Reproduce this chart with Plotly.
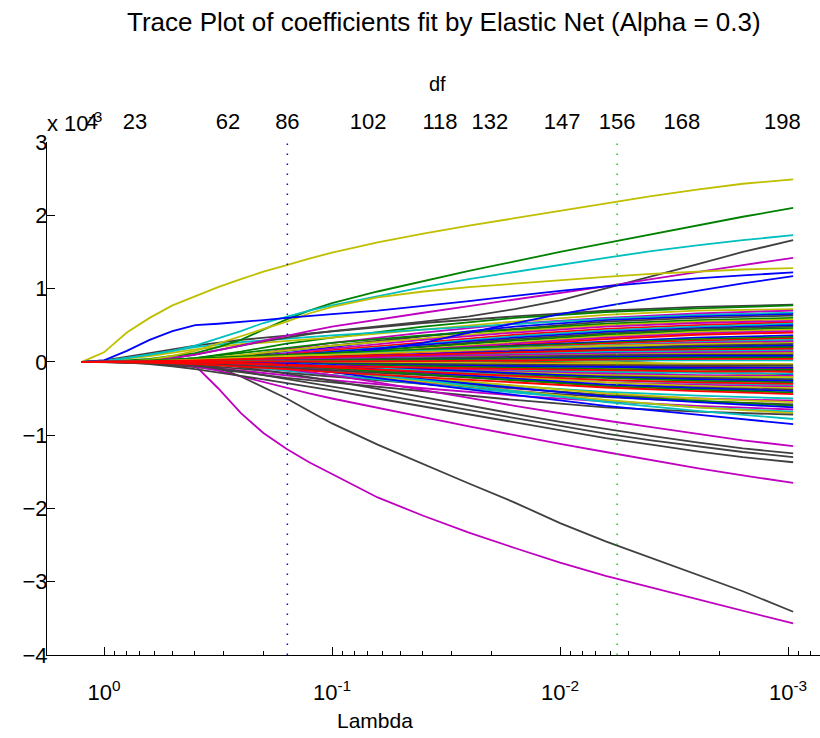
import plotly.graph_objects as go

# Lambda values at which the bundled coefficient paths are sampled (largest to smallest)
lambda_path = [1.25, 1.0, 0.631, 0.398, 0.251, 0.158, 0.1, 0.0398, 0.0158, 0.00631, 0.00251, 0.00095]

# Finer lambda sampling for the paths that stand out from the bundle
lambda_path_fine = [1.25, 1.0, 0.794, 0.631, 0.501, 0.398, 0.316, 0.251, 0.2, 0.158, 0.126, 0.1,
                    0.0631, 0.0398, 0.0251, 0.0158, 0.01, 0.00631, 0.00398, 0.00251, 0.00158, 0.00095]

# Coefficient paths, in units of 1e-3, one list per predictor
major_coefs = [
    [0, 0.13, 0.40, 0.60, 0.77, 0.90, 1.02, 1.13, 1.23, 1.32, 1.41, 1.49, 1.63, 1.75, 1.86, 1.96, 2.06, 2.16, 2.26, 2.35, 2.43, 2.49],
    [0, 0, 0.02, 0.04, 0.08, 0.12, 0.20, 0.30, 0.44, 0.58, 0.70, 0.80, 0.96, 1.10, 1.24, 1.37, 1.50, 1.62, 1.74, 1.86, 1.98, 2.10],
    [0, 0.01, 0.05, 0.10, 0.15, 0.22, 0.32, 0.42, 0.53, 0.62, 0.70, 0.77, 0.90, 1.02, 1.13, 1.23, 1.33, 1.42, 1.51, 1.59, 1.66, 1.73],
    [0, 0, 0, 0.02, 0.05, 0.10, 0.16, 0.22, 0.28, 0.33, 0.38, 0.42, 0.48, 0.55, 0.62, 0.72, 0.84, 1.00, 1.17, 1.33, 1.50, 1.66],
    [0, 0, 0, 0.02, 0.05, 0.10, 0.16, 0.22, 0.29, 0.36, 0.42, 0.48, 0.58, 0.67, 0.76, 0.85, 0.94, 1.03, 1.13, 1.23, 1.32, 1.42],
    [0, 0, 0, 0.03, 0.08, 0.15, 0.25, 0.35, 0.45, 0.55, 0.66, 0.75, 0.88, 0.96, 1.02, 1.07, 1.12, 1.16, 1.20, 1.23, 1.26, 1.28],
    [0, 0.02, 0.15, 0.30, 0.42, 0.50, 0.52, 0.54, 0.57, 0.60, 0.62, 0.65, 0.70, 0.76, 0.83, 0.90, 0.97, 1.03, 1.09, 1.14, 1.18, 1.22],
    [0, 0, 0, 0, 0.01, 0.02, 0.03, 0.04, 0.05, 0.07, 0.08, 0.10, 0.17, 0.26, 0.40, 0.53, 0.65, 0.76, 0.87, 0.97, 1.07, 1.17],
    [0, 0, 0, 0, 0, -0.05, -0.36, -0.70, -0.97, -1.19, -1.37, -1.53, -1.85, -2.10, -2.33, -2.54, -2.74, -2.92, -3.08, -3.24, -3.40, -3.57],
    [0, 0, 0, 0, 0, -0.02, -0.08, -0.20, -0.35, -0.50, -0.67, -0.84, -1.13, -1.40, -1.66, -1.92, -2.20, -2.45, -2.68, -2.90, -3.13, -3.41],
    [0, 0, 0, 0, -0.02, -0.06, -0.12, -0.20, -0.28, -0.36, -0.43, -0.50, -0.63, -0.76, -0.88, -1.00, -1.12, -1.23, -1.34, -1.45, -1.55, -1.65],
    [0, 0, -0.01, -0.03, -0.06, -0.10, -0.14, -0.19, -0.24, -0.29, -0.34, -0.39, -0.50, -0.61, -0.72, -0.83, -0.94, -1.04, -1.13, -1.22, -1.30, -1.37],
    [0, 0, 0, 0, -0.02, -0.05, -0.09, -0.13, -0.18, -0.23, -0.28, -0.33, -0.44, -0.55, -0.66, -0.77, -0.88, -0.98, -1.07, -1.15, -1.23, -1.30],
    [0, 0, 0, 0, 0, 0, -0.03, -0.07, -0.11, -0.16, -0.21, -0.26, -0.37, -0.48, -0.60, -0.71, -0.82, -0.92, -1.01, -1.10, -1.18, -1.25],
    [0, 0, 0, 0, 0, 0, 0, -0.03, -0.06, -0.10, -0.14, -0.18, -0.28, -0.38, -0.49, -0.60, -0.70, -0.80, -0.89, -0.98, -1.07, -1.15],
]
major_colors = ["y", "g", "c", "k", "m", "y", "b", "b", "m", "k", "m", "k", "k", "k", "m"]

# Upper part of the bundle
upper_coefs = [
    [0, 0.02, 0.12, 0.22, 0.30, 0.36, 0.42, 0.53, 0.62, 0.70, 0.75, 0.78],
    [0, 0, 0, 0.05, 0.14, 0.25, 0.33, 0.48, 0.60, 0.68, 0.73, 0.77],
    [0, 0.01, 0.08, 0.17, 0.24, 0.29, 0.33, 0.44, 0.55, 0.64, 0.70, 0.72],
    [0, 0, 0, 0.03, 0.08, 0.17, 0.26, 0.40, 0.52, 0.60, 0.66, 0.70],
    [0, 0.01, 0.10, 0.20, 0.27, 0.32, 0.36, 0.44, 0.52, 0.59, 0.64, 0.67],
    [0, 0, 0, 0.02, 0.06, 0.12, 0.20, 0.35, 0.48, 0.57, 0.62, 0.65],
    [0, 0, 0, 0.02, 0.07, 0.15, 0.22, 0.35, 0.45, 0.55, 0.60, 0.63],
    [0, 0, 0.01, 0.05, 0.12, 0.20, 0.26, 0.36, 0.44, 0.52, 0.57, 0.60],
    [0, 0, 0, 0.03, 0.09, 0.16, 0.22, 0.32, 0.42, 0.50, 0.55, 0.58],
    [0, 0, 0, 0.01, 0.05, 0.12, 0.18, 0.30, 0.40, 0.48, 0.53, 0.56],
    [0, 0, 0, 0.02, 0.06, 0.10, 0.16, 0.27, 0.37, 0.45, 0.50, 0.54],
    [0, 0, 0, 0, 0.03, 0.08, 0.14, 0.25, 0.35, 0.43, 0.48, 0.52],
    [0, 0, 0, 0.01, 0.04, 0.09, 0.14, 0.24, 0.33, 0.41, 0.46, 0.50],
    [0, 0, 0, 0, 0.02, 0.06, 0.11, 0.21, 0.31, 0.39, 0.45, 0.48],
    [0, 0, 0, 0.01, 0.04, 0.08, 0.12, 0.20, 0.29, 0.37, 0.43, 0.46],
    [0, 0, 0, 0, 0.01, 0.04, 0.09, 0.18, 0.27, 0.35, 0.41, 0.44],
    [0, 0, 0, 0, 0.02, 0.05, 0.09, 0.17, 0.25, 0.33, 0.39, 0.42],
    [0, 0, 0, 0, 0, 0.03, 0.07, 0.15, 0.24, 0.31, 0.37, 0.40],
]
upper_colors = ["k", "g", "y", "m", "c", "b", "k", "g", "y", "m", "r", "c", "b", "k", "g", "y", "m", "r"]

# Lower part of the bundle
lower_coefs = [
    [0, 0, 0, -0.01, -0.04, -0.08, -0.13, -0.23, -0.33, -0.41, -0.46, -0.50],
    [0, 0, 0, -0.02, -0.06, -0.12, -0.18, -0.28, -0.37, -0.45, -0.50, -0.53],
    [0, 0, 0, 0, -0.02, -0.06, -0.11, -0.22, -0.33, -0.43, -0.50, -0.55],
    [0, 0, -0.01, -0.04, -0.09, -0.15, -0.20, -0.30, -0.40, -0.48, -0.54, -0.58],
    [0, 0, 0, -0.01, -0.04, -0.09, -0.14, -0.25, -0.36, -0.46, -0.53, -0.60],
    [0, 0, 0, 0, -0.02, -0.06, -0.12, -0.24, -0.36, -0.47, -0.55, -0.62],
    [0, 0, -0.02, -0.06, -0.12, -0.19, -0.25, -0.36, -0.46, -0.54, -0.60, -0.65],
    [0, 0, 0, -0.02, -0.06, -0.12, -0.18, -0.30, -0.42, -0.53, -0.62, -0.68],
    [0, 0, 0, 0, -0.03, -0.08, -0.14, -0.27, -0.40, -0.52, -0.62, -0.70],
    [0, 0, -0.02, -0.07, -0.14, -0.22, -0.28, -0.40, -0.52, -0.62, -0.68, -0.72],
    [0, 0, 0, 0, -0.03, -0.06, -0.12, -0.25, -0.40, -0.55, -0.67, -0.78],
    [0, 0, 0, -0.02, -0.04, -0.08, -0.14, -0.30, -0.45, -0.60, -0.72, -0.85],
]
lower_colors = ["c", "m", "y", "k", "g", "b", "m", "c", "y", "k", "c", "b"]

# Late entries that fill the core of the bundle
late_coefs = [
    [0, 0, 0, 0, 0, 0, 0, 0.03, 0.08, 0.14, 0.20, 0.25],
    [0, 0, 0, 0, 0, 0, 0, 0, 0.04, 0.10, 0.16, 0.21],
    [0, 0, 0, 0, 0, 0, 0, 0, 0, 0.05, 0.10, 0.15],
    [0, 0, 0, 0, 0, 0, 0, 0.02, 0.05, 0.09, 0.13, 0.17],
    [0, 0, 0, 0, 0, 0, 0.01, 0.04, 0.08, 0.12, 0.16, 0.19],
    [0, 0, 0, 0, 0, 0, 0, 0, 0.02, 0.05, 0.08, 0.11],
    [0, 0, 0, 0, 0, 0, 0, 0, 0, 0, 0.04, 0.08],
    [0, 0, 0, 0, 0, 0, 0, -0.02, -0.06, -0.10, -0.14, -0.17],
    [0, 0, 0, 0, 0, 0, 0, 0, -0.04, -0.09, -0.14, -0.19],
    [0, 0, 0, 0, 0, 0, 0, 0, 0, -0.05, -0.10, -0.14],
    [0, 0, 0, 0, 0, 0, -0.01, -0.05, -0.10, -0.15, -0.19, -0.22],
    [0, 0, 0, 0, 0, 0, 0, 0, -0.02, -0.05, -0.08, -0.10],
    [0, 0, 0, 0, 0, 0, 0, 0, 0, 0, -0.03, -0.07],
    [0, 0, 0, 0, 0, 0, 0.02, 0.06, 0.11, 0.17, 0.23, 0.28],
    [0, 0, 0, 0, 0, 0, 0, 0.03, 0.09, 0.16, 0.23, 0.30],
    [0, 0, 0, 0, 0, 0, 0, 0, 0.05, 0.12, 0.20, 0.27],
    [0, 0, 0, 0, 0, 0, 0, -0.03, -0.08, -0.14, -0.20, -0.25],
    [0, 0, 0, 0, 0, 0, 0, 0, -0.05, -0.12, -0.19, -0.25],
    [0, 0, 0, 0, 0, 0, 0, 0, 0, -0.06, -0.13, -0.20],
    [0, 0, 0, 0, 0, 0, 0, 0.02, 0.05, 0.07, 0.09, 0.12],
    [0, 0, 0, 0, 0, 0, 0, 0, 0.03, 0.06, 0.09, 0.13],
    [0, 0, 0, 0, 0, 0, 0, -0.01, -0.04, -0.07, -0.10, -0.12],
    [0, 0, 0, 0, 0, 0, 0, 0, 0, 0.03, 0.07, 0.10],
    [0, 0, 0, 0, 0, 0, 0, 0, 0, -0.03, -0.06, -0.09],
    [0, 0, 0, 0, 0, 0, 0.01, 0.06, 0.13, 0.20, 0.27, 0.33],
    [0, 0, 0, 0, 0, 0, -0.01, -0.06, -0.12, -0.18, -0.23, -0.28],
    [0, 0, 0, 0, 0, 0, 0, 0, -0.03, -0.08, -0.14, -0.20],
    [0, 0, 0, 0, 0, 0, 0, 0, 0.02, 0.08, 0.15, 0.22],
]
late_colors = ["b", "g", "r", "c", "m", "y", "k", "b", "g", "r", "c", "m", "y", "k",
               "g", "b", "m", "c", "y", "r", "k", "b", "g", "r", "c", "m", "y", "k"]

# Early entries in the centre of the bundle (drawn last)
core_coefs = [
    [0, 0, 0, 0.01, 0.03, 0.06, 0.09, 0.15, 0.22, 0.28, 0.33, 0.36],
    [0, 0, 0.02, 0.05, 0.08, 0.10, 0.12, 0.17, 0.22, 0.27, 0.31, 0.34],
    [0, 0, 0, 0, 0.02, 0.05, 0.08, 0.14, 0.20, 0.25, 0.29, 0.32],
    [0, 0, 0, 0.02, 0.05, 0.08, 0.10, 0.15, 0.19, 0.24, 0.27, 0.30],
    [0, 0, 0, 0, 0, 0.02, 0.05, 0.11, 0.17, 0.22, 0.26, 0.28],
    [0, 0, 0.01, 0.03, 0.06, 0.08, 0.10, 0.14, 0.18, 0.22, 0.24, 0.26],
    [0, 0, 0, 0, 0.01, 0.03, 0.05, 0.10, 0.15, 0.19, 0.22, 0.24],
    [0, 0, 0, 0.01, 0.03, 0.05, 0.07, 0.11, 0.15, 0.18, 0.20, 0.22],
    [0, 0, 0, 0, 0, 0.01, 0.03, 0.08, 0.13, 0.17, 0.19, 0.20],
    [0, 0, 0, 0, 0.01, 0.02, 0.04, 0.07, 0.11, 0.14, 0.15, 0.16],
    [0, 0, 0, 0.01, 0.02, 0.04, 0.05, 0.08, 0.10, 0.12, 0.13, 0.14],
    [0, 0, 0, 0, 0, 0.01, 0.02, 0.05, 0.08, 0.10, 0.11, 0.12],
    [0, 0, 0, 0, 0.01, 0.02, 0.03, 0.05, 0.07, 0.09, 0.10, 0.10],
    [0, 0, 0, 0, 0, 0, 0.01, 0.03, 0.05, 0.07, 0.08, 0.08],
    [0, 0, 0, 0, 0, 0.01, 0.02, 0.03, 0.04, 0.05, 0.06, 0.06],
    [0, 0, 0, 0, 0, 0, 0.01, 0.01, 0.02, 0.02, 0.02, 0.02],
    [0, 0, 0, 0, 0, 0, 0, -0.01, -0.02, -0.02, -0.03, -0.03],
    [0, 0, 0, 0, 0, -0.01, -0.02, -0.03, -0.04, -0.05, -0.05, -0.05],
    [0, 0, 0, 0, -0.01, -0.02, -0.03, -0.05, -0.06, -0.07, -0.08, -0.08],
    [0, 0, 0, 0, 0, -0.01, -0.03, -0.06, -0.08, -0.10, -0.10, -0.11],
    [0, 0, 0, 0, -0.01, -0.03, -0.05, -0.09, -0.12, -0.14, -0.15, -0.16],
    [0, 0, 0, 0, 0, -0.02, -0.04, -0.09, -0.13, -0.16, -0.18, -0.19],
    [0, 0, 0, -0.01, -0.03, -0.05, -0.07, -0.11, -0.15, -0.18, -0.20, -0.21],
    [0, 0, 0, 0, -0.01, -0.03, -0.06, -0.11, -0.16, -0.20, -0.22, -0.24],
    [0, 0, 0, 0, 0, -0.01, -0.04, -0.10, -0.16, -0.21, -0.24, -0.26],
    [0, 0, -0.01, -0.03, -0.05, -0.08, -0.10, -0.14, -0.19, -0.23, -0.26, -0.28],
    [0, 0, 0, 0, 0, -0.02, -0.05, -0.12, -0.19, -0.25, -0.29, -0.32],
    [0, 0, 0, -0.01, -0.03, -0.06, -0.10, -0.16, -0.22, -0.28, -0.31, -0.34],
    [0, 0, 0, 0, -0.01, -0.04, -0.07, -0.14, -0.21, -0.28, -0.33, -0.36],
    [0, 0, 0, -0.02, -0.05, -0.09, -0.12, -0.18, -0.25, -0.31, -0.35, -0.38],
    [0, 0, 0, 0, 0, -0.02, -0.06, -0.14, -0.23, -0.31, -0.36, -0.40],
    [0, 0, 0, 0, -0.02, -0.05, -0.09, -0.17, -0.26, -0.33, -0.38, -0.42],
    [0, 0, -0.01, -0.03, -0.06, -0.10, -0.14, -0.21, -0.28, -0.35, -0.40, -0.44],
    [0, 0, 0, 0, -0.02, -0.05, -0.08, -0.14, -0.20, -0.25, -0.28, -0.30],
    [0, 0, 0, -0.01, -0.02, -0.04, -0.06, -0.08, -0.10, -0.12, -0.13, -0.13],
    [0, 0, 0.01, 0.02, 0.04, 0.06, 0.07, 0.10, 0.13, 0.16, 0.17, 0.18],
    [0, 0, 0, 0, 0, 0, 0, 0.01, 0.02, 0.03, 0.04, 0.04],
]
core_colors = ["b", "g", "r", "c", "m", "y", "k", "b", "g", "c", "m", "y", "k", "b", "g", "c",
               "y", "k", "b", "g", "c", "m", "y", "k", "b", "g", "c", "m", "y", "k", "b", "g",
               "r", "r", "r", "r", "r"]

# Cross-validated lambda choices (1SE and minimum MSE)
lambda_1se = 0.157
lambda_min = 0.00562

# Degrees of freedom shown along the top axis
df_lambda = [1.13, 0.731, 0.286, 0.157, 0.0695, 0.0336, 0.0203, 0.0098, 0.00562, 0.00292, 0.00106]
df_labels = ["4", "23", "62", "86", "102", "118", "132", "147", "156", "168", "198"]

# Bottom axis ticks
lambda_ticks = [1, 0.1, 0.01, 0.001]
lambda_tick_text = ["10<sup>0</sup>", "10<sup>-1</sup>", "10<sup>-2</sup>", "10<sup>-3</sup>"]
minor_lambda = [m * 10.0 ** -d for d in range(1, 5) for m in range(2, 10)]

palette = {
    "b": "#0000ff", "g": "#008000", "r": "#ff0000", "c": "#00bfbf",
    "m": "#bf00bf", "y": "#bfbf00", "k": "#404040",
}

FONT = "Liberation Sans, Arial, sans-serif"

fig = go.Figure()

groups = [
    (lambda_path, lower_coefs, lower_colors),
    (lambda_path, upper_coefs, upper_colors),
    (lambda_path, late_coefs, late_colors),
    (lambda_path_fine, major_coefs, major_colors),
    (lambda_path, core_coefs, core_colors),
]
for lam, coefs, colors in groups:
    for vals, col in zip(coefs, colors):
        fig.add_trace(go.Scatter(
            x=lam, y=vals, mode="lines",
            line=dict(color=palette[col], width=1.8),
            hoverinfo="skip", showlegend=False,
        ))

# Dotted lines marking the selected lambdas
for lam, col in [(lambda_1se, "#0000ff"), (lambda_min, "#00dd00")]:
    fig.add_trace(go.Scatter(
        x=[lam, lam], y=[-4, 3], mode="lines",
        line=dict(color=col, width=1.5, dash="1.5px,8.5px"),
        hoverinfo="skip", showlegend=False,
    ))

# Invisible trace to activate the top df axis
fig.add_trace(go.Scatter(x=df_lambda, y=[None] * len(df_lambda), xaxis="x2",
                         mode="markers", showlegend=False, hoverinfo="skip"))

fig.update_layout(
    width=820, height=738,
    margin=dict(l=47, r=0, t=142, b=83),
    paper_bgcolor="white", plot_bgcolor="white",
    font=dict(family=FONT, color="black", size=21),
    showlegend=False,
    xaxis=dict(
        type="log", range=[0.25, -3.14],
        tickmode="array", tickvals=lambda_ticks, ticktext=lambda_tick_text,
        ticks="inside", ticklen=8, tickwidth=1, tickcolor="black",
        minor=dict(tickmode="array", tickvals=minor_lambda, ticks="inside",
                   ticklen=4, tickwidth=1, tickcolor="black", showgrid=False),
        showline=True, linecolor="black", linewidth=1,
        showgrid=False, zeroline=False,
        tickfont=dict(size=22), ticklabelstandoff=18,
    ),
    xaxis2=dict(
        type="log", range=[0.25, -3.14], overlaying="x", side="top",
        tickmode="array", tickvals=df_lambda, ticktext=df_labels,
        ticks="", showline=False, showgrid=False, zeroline=False,
        tickfont=dict(size=22), ticklabelstandoff=8,
    ),
    yaxis=dict(
        range=[-4, 3], dtick=1, tickmode="linear", tick0=-4,
        ticks="inside", ticklen=8, tickwidth=1, tickcolor="black",
        showline=True, linecolor="black", linewidth=1,
        showgrid=False, zeroline=False,
        tickfont=dict(size=22), ticklabelstandoff=-6,
    ),
    annotations=[
        dict(text="Trace Plot of coefficients fit by Elastic Net (Alpha = 0.3)",
             xref="paper", yref="paper", x=0.5136, y=1.234, showarrow=False,
             font=dict(size=26), xanchor="center", yanchor="middle"),
        dict(text="df", xref="paper", yref="paper", x=0.505, y=1.113,
             showarrow=False, font=dict(size=20), xanchor="center", yanchor="middle"),
        dict(text="Lambda", xref="paper", yref="paper", x=0.4243, y=-0.127,
             showarrow=False, font=dict(size=21), xanchor="center", yanchor="middle"),
        dict(text="x 10<sup>-3</sup>", xref="paper", yref="paper", x=-0.003, y=1.007,
             showarrow=False, font=dict(size=22), xanchor="left", yanchor="bottom"),
    ],
)

fig.write_html("out.html")
